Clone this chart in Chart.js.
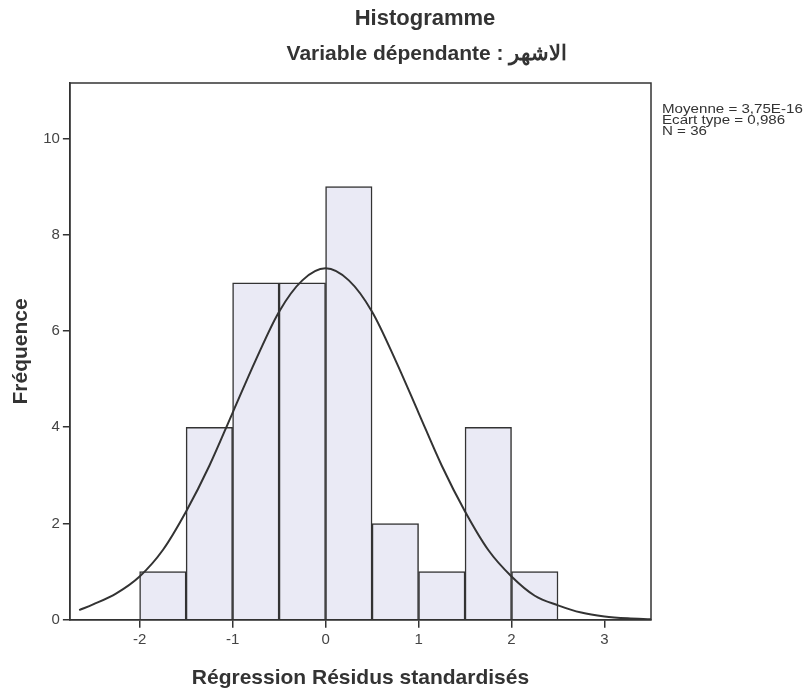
<!DOCTYPE html>
<html>
<head>
<meta charset="utf-8">
<title>Histogramme</title>
<script src="https://cdn.jsdelivr.net/npm/chart.js"></script>
<style>
    body { margin: 0; background: #ffffff; }
    #ourHist { display: block; }
</style>
</head>
<body>
<canvas id="ourHist" width="811" height="698"></canvas>
<script>
// classes de 0,5 : centres et effectifs
var binCenters = [-1.75, -1.25, -0.75, -0.25, 0.25, 0.75, 1.25, 1.75, 2.25];
var frequencies = [1, 4, 7, 7, 9, 2, 1, 4, 1];

// courbe normale superposee (lue point par point)
var curveX = [-2.65, -2.5, -2.25, -2, -1.75, -1.5, -1.25, -1, -0.75, -0.5, -0.25, 0, 0.25, 0.5, 0.75, 1, 1.25, 1.5, 1.75, 2, 2.25, 2.5, 2.75, 3, 3.25, 3.5];
var curveY = [0.2, 0.32, 0.55, 0.9, 1.45, 2.25, 3.2, 4.3, 5.4, 6.4, 7.05, 7.3, 7.05, 6.4, 5.4, 4.3, 3.2, 2.25, 1.45, 0.9, 0.5, 0.3, 0.15, 0.07, 0.03, 0.01];

var xTicks = [-2, -1, 0, 1, 2, 3];
var yTicks = [0, 2, 4, 6, 8, 10];

var statLines = ["Moyenne = 3,75E-16", "Ecart type = 0,986", "N = 36"];

var ink = "#333333";
var font = "'Liberation Sans', Arial, sans-serif";

var barData = binCenters.map(function (c, i) { return { x: c, y: frequencies[i] }; });
var curveData = curveX.map(function (x, i) { return { x: x, y: curveY[i] }; });

// cadre, titres et statistiques
var frameAndText = {
    id: 'frameAndText',
    afterDraw: function (chart) {
        var ctx = chart.ctx;
        var a = chart.chartArea;
        ctx.save();
        ctx.strokeStyle = ink;
        ctx.lineWidth = 1.5;
        ctx.strokeRect(a.left, a.top, a.right - a.left, a.bottom - a.top);

        ctx.fillStyle = ink;
        ctx.textAlign = "center";
        ctx.textBaseline = "middle";
        ctx.font = "bold 22px " + font;
        ctx.fillText("Histogramme", 425, 19);
        ctx.font = "bold 21px " + font;
        ctx.fillText("Variable dépendante : الاشهر", 427, 54);

        // texte un peu elargi, comme l'impression d'origine
        ctx.textAlign = "left";
        ctx.font = "12px " + font;
        statLines.forEach(function (t, i) {
            ctx.save();
            ctx.translate(662, 110 + i * 11);
            ctx.scale(1.26, 1);
            ctx.fillText(t, 0, 0);
            ctx.restore();
        });
        ctx.restore();
    }
};

var chartHist = new Chart(document.getElementById("ourHist"), {
    type: 'bar',
    data: {
        datasets: [
            {
                type: 'line',
                data: curveData,
                borderColor: ink,
                borderWidth: 2,
                pointRadius: 0,
                cubicInterpolationMode: 'monotone',
                fill: false,
                order: 0
            },
            {
                type: 'bar',
                data: barData,
                backgroundColor: '#eaeaf5',
                borderColor: ink,
                borderWidth: 1.5,
                barPercentage: 1,
                categoryPercentage: 1,
                order: 1
            }
        ]
    },
    options: {
        responsive: false,
        animation: false,
        devicePixelRatio: 1,
        layout: {
            padding: { left: 6, right: 160, top: 83, bottom: 3 }
        },
        plugins: {
            legend: { display: false },
            tooltip: { enabled: false }
        },
        scales: {
            x: {
                type: 'linear',
                min: -2.75,
                max: 3.5,
                offset: false,
                afterBuildTicks: function (scale) {
                    scale.ticks = xTicks.map(function (v) { return { value: v }; });
                },
                ticks: { color: '#444444', padding: 3, font: { family: font, size: 15 } },
                grid: { offset: false, drawOnChartArea: false, tickLength: 8, color: ink, lineWidth: 1.5 },
                border: { color: ink, width: 1.5 },
                title: {
                    display: true,
                    text: 'Régression Résidus standardisés',
                    color: ink,
                    font: { family: font, size: 21, weight: 'bold' },
                    padding: { top: 14, bottom: 4 }
                }
            },
            y: {
                min: 0,
                max: 11.15,
                afterBuildTicks: function (scale) {
                    scale.ticks = yTicks.map(function (v) { return { value: v }; });
                },
                ticks: { color: '#444444', padding: 3, font: { family: font, size: 15 } },
                grid: { drawOnChartArea: false, tickLength: 7, color: ink, lineWidth: 1.5 },
                border: { color: ink, width: 1.5 },
                title: {
                    display: true,
                    text: 'Fréquence',
                    color: ink,
                    font: { family: font, size: 21, weight: 'bold' },
                    padding: { top: 3, bottom: 6 }
                }
            }
        }
    },
    plugins: [frameAndText]
});
</script>
</body>
</html>
